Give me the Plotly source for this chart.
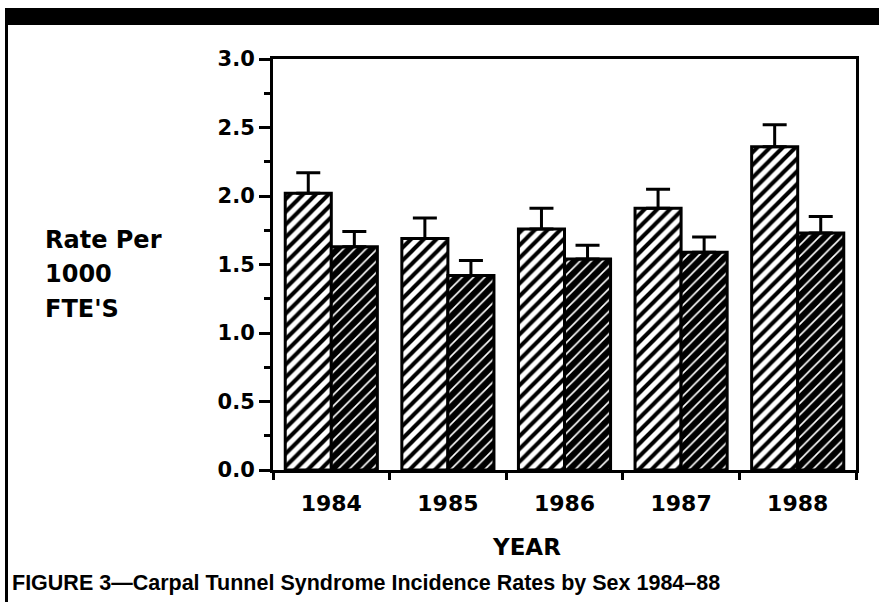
import plotly.graph_objects as go

years = ["1984", "1985", "1986", "1987", "1988"]
light_rate = [2.02, 1.69, 1.76, 1.91, 2.36]
light_err = [0.15, 0.15, 0.15, 0.14, 0.16]
dark_rate = [1.63, 1.42, 1.54, 1.59, 1.73]
dark_err = [0.11, 0.11, 0.10, 0.11, 0.12]
y_ticks = [0.0, 0.5, 1.0, 1.5, 2.0, 2.5, 3.0]

W, H = 879, 602
L, R, T, B = 273, 856, 59, 470


def px(x):
    return (x - L) / (R - L)


def py(y):
    return (B - y) / (B - T)


fig = go.Figure()
fig.add_trace(go.Bar(
    x=years, y=light_rate, name="light",
    marker=dict(color="white", line=dict(color="black", width=3),
                pattern=dict(shape="/", bgcolor="white", fgcolor="black", fgopacity=1,
                             size=9, solidity=0.45)),
    error_y=dict(type="data", symmetric=False, array=light_err, arrayminus=[0] * 5,
                 color="black", thickness=3, width=12),
))
fig.add_trace(go.Bar(
    x=years, y=dark_rate, name="dark",
    marker=dict(color="black", line=dict(color="black", width=3),
                pattern=dict(shape="/", bgcolor="black", fgcolor="white", fgopacity=1,
                             size=8, solidity=0.2)),
    error_y=dict(type="data", symmetric=False, array=dark_err, arrayminus=[0] * 5,
                 color="black", thickness=3, width=12),
))

fig.update_layout(
    width=W, height=H,
    margin=dict(l=L, r=W - R, t=T, b=H - B),
    paper_bgcolor="white", plot_bgcolor="white",
    barmode="group", bargap=0.21, bargroupgap=0,
    showlegend=False,
    font=dict(family="DejaVu Sans", color="black"),
    xaxis=dict(type="category", tickson="boundaries", ticks="outside", ticklen=7, tickwidth=3,
               tickcolor="black", showline=True, linecolor="black", linewidth=3, mirror=True,
               showgrid=False, range=[-0.5, 4.5], ticklabelstandoff=12,
               tickfont=dict(family="DejaVu Sans", size=22, weight="bold")),
    yaxis=dict(range=[0, 3], tickvals=y_ticks, tickformat=".1f", ticks="outside", ticklen=11,
               tickwidth=3, tickcolor="black", showline=True, linecolor="black", linewidth=3,
               mirror=True, showgrid=False, zeroline=False,
               minor=dict(dtick=0.25, ticks="outside", ticklen=6, tickwidth=3, tickcolor="black",
                          showgrid=False),
               tickfont=dict(family="DejaVu Sans", size=21, weight="bold")),
)

fig.add_shape(type="rect", xref="paper", yref="paper", x0=px(5), x1=px(879), y0=py(25), y1=py(8),
              fillcolor="black", line=dict(width=0), layer="above")
fig.add_shape(type="line", xref="paper", yref="paper", x0=px(6.5), x1=px(6.5), y0=py(602), y1=py(25),
              line=dict(color="black", width=3), layer="above")

ylab_font = dict(family="DejaVu Sans", size=24, color="black", weight="bold")
for txt, yc in [("Rate Per", 240), ("1000", 274), ("FTE'S", 309)]:
    fig.add_annotation(text=txt, xref="paper", yref="paper", x=px(43), y=py(yc),
                       xanchor="left", yanchor="middle", showarrow=False, font=ylab_font)

fig.add_annotation(text="YEAR", xref="paper", yref="paper", x=px(526), y=py(547),
                   xanchor="center", yanchor="middle", showarrow=False,
                   font=dict(family="DejaVu Sans", size=23, color="black", weight="bold"))
fig.add_annotation(text="FIGURE 3\u2014Carpal Tunnel Syndrome Incidence Rates by Sex 1984\u201388",
                   xref="paper", yref="paper", x=px(10), y=py(583),
                   xanchor="left", yanchor="middle", showarrow=False,
                   font=dict(family="Liberation Sans", size=21.5, color="black", weight="bold"))

fig.write_html("out.html", config={"displayModeBar": False},
               post_script="document.body.style.margin='0';")
